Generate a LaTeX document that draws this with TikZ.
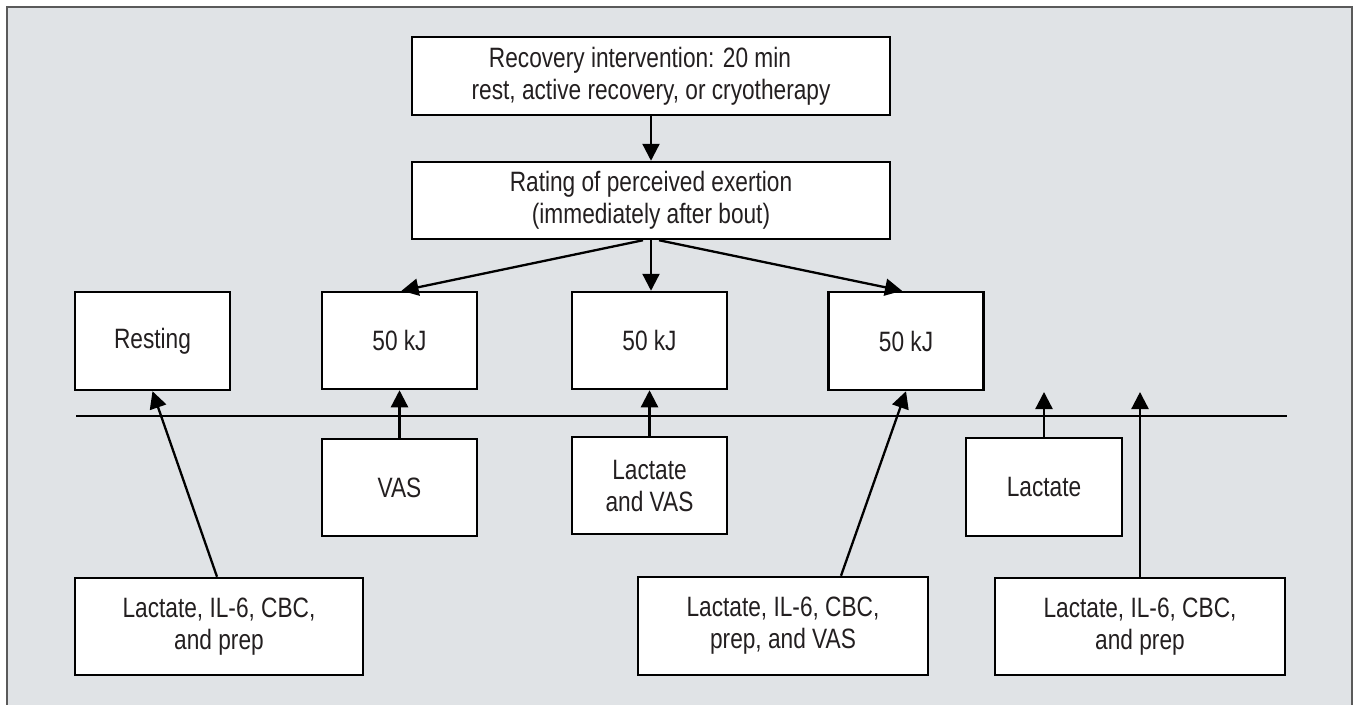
\documentclass[tikz,border=0pt]{standalone}
\usepackage{fontspec}
\setmainfont{Liberation Sans}[FakeStretch=0.81]
\usetikzlibrary{arrows.meta}
\definecolor{bg}{HTML}{E0E3E6}
\definecolor{framecol}{HTML}{5A5A5A}
\definecolor{txt}{HTML}{231F20}
\begin{document}
\begin{tikzpicture}[x=1pt,y=-1pt,
  box/.style={draw=black, fill=white, line width=2.5pt, align=center, inner sep=0pt, text=txt, font=\fontsize{28}{32}\selectfont},
  conn/.style={line width=2.3pt, -{Triangle[length=17pt,width=17pt]}}]
\useasboundingbox (0,0) rectangle (1356,704);
\begin{scope}
\clip (0,0) rectangle (1356,704);
\draw[draw=framecol, fill=bg, line width=1.5pt] (7,7) rectangle (1352,720);
\end{scope}

\node[box, minimum width=478pt, minimum height=78pt] (top) at (651,76) {Recovery intervention: 20 min\hspace*{22pt}\\rest, active recovery, or cryotherapy};
\node[box, minimum width=478pt, minimum height=77pt] (rpe) at (651,200.5) {Rating of perceived exertion\\(immediately after bout)};
\node[box, minimum width=155pt, minimum height=98pt] (rest) at (152.5,341) {Resting};
\node[box, minimum width=155pt, minimum height=97pt] (kja) at (399.5,340.5) {50 kJ};
\node[box, minimum width=155pt, minimum height=97pt] (kjb) at (649.5,340.5) {50 kJ};
\node[box, minimum width=155pt, minimum height=98pt] (kjc) at (906,341) {50 kJ};
\node[box, minimum width=155pt, minimum height=97pt] (vas) at (399.5,487.5) {VAS};
\node[box, minimum width=155pt, minimum height=97pt] (lvas) at (649.5,485.5) {Lactate\\and VAS};
\node[box, minimum width=156pt, minimum height=98pt] (lac) at (1044,487) {Lactate};
\node[box, minimum width=288pt, minimum height=97pt] (bl) at (219,626.5) {Lactate, IL-6, CBC,\\and prep};
\node[box, minimum width=290pt, minimum height=98pt] (bm) at (783,626) {Lactate, IL-6, CBC,\\prep, and VAS};
\node[box, minimum width=290pt, minimum height=97pt] (br) at (1140,626.5) {Lactate, IL-6, CBC,\\and prep};

\coordinate (linea) at (76,416);
\coordinate (lineb) at (1287,416);
\draw[line width=1.5pt] (linea) -- (lineb);

\draw[conn] (top.south) -- (rpe.north);
\draw[conn] ([xshift=-8pt]rpe.south) -- ([xshift=2pt]kja.north);
\draw[conn] (rpe.south) -- (rpe.south |- kjb.north);
\draw[conn] ([xshift=8pt]rpe.south) -- ([xshift=-4pt]kjc.north);
\draw[conn] ([xshift=-2pt]bl.north) -- (rest.south);
\draw[conn] (vas.north) -- (kja.south);
\draw[conn] (lvas.north) -- (kjb.south);
\draw[conn] ([xshift=58pt]bm.north) -- (kjc.south);
\coordinate (ua) at (1044,392);
\coordinate (ub) at (1140,392);
\draw[conn] (lac.north) -- (ua);
\draw[conn] (br.north) -- (ub);
\end{tikzpicture}
\end{document}
